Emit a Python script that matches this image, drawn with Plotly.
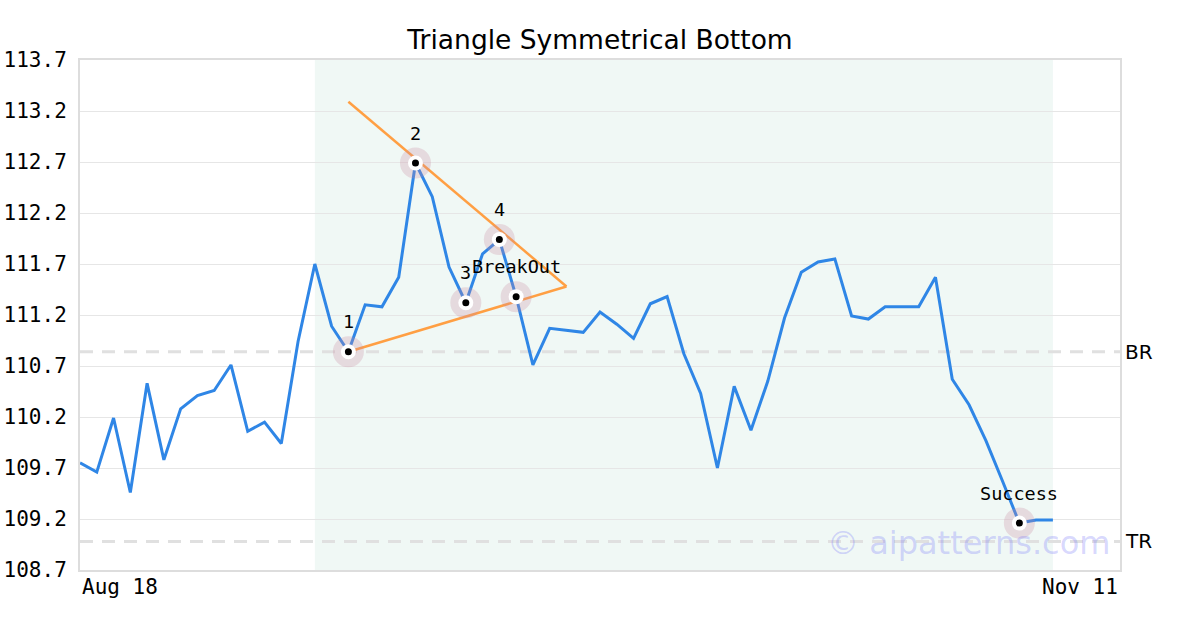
import plotly.graph_objects as go

# ---- data ----
x_idx = list(range(59))
prices = [109.75, 109.66, 110.19, 109.46, 110.53, 109.78, 110.28, 110.41, 110.46, 110.71,
          110.06, 110.15, 109.94, 110.94, 111.70, 111.09, 110.84, 111.30, 111.28, 111.57,
          112.69, 112.36, 111.67, 111.32, 111.80, 111.94, 111.38, 110.71, 111.07, 111.05,
          111.03, 111.23, 111.11, 110.97, 111.31, 111.38, 110.82, 110.43, 109.70, 110.50,
          110.07, 110.55, 111.17, 111.62, 111.72, 111.75, 111.19, 111.16, 111.28, 111.28,
          111.28, 111.57, 110.57, 110.32, 109.97, 109.57, 109.16, 109.19, 109.19]
pattern_idx = [16, 20, 23, 25, 26, 56]
pattern_labels = ["1", "2", "3", "4", "BreakOut", "Success"]
upper_x = [16, 29]
upper_y = [113.29, 111.48]
lower_x = [16, 29]
lower_y = [110.84, 111.48]
shade_range = [14, 58]
br_level = 110.84
tr_level = 108.98
x_range = [0, 62]
x_tick_labels = ["Aug 18", "Nov 11"]
y_ticks = [108.7, 109.2, 109.7, 110.2, 110.7, 111.2, 111.7, 112.2, 112.7, 113.2, 113.7]

MONO = "DejaVu Sans Mono"
SANS = "DejaVu Sans"

fig = go.Figure()

fig.add_trace(go.Scatter(x=x_idx, y=prices, mode="lines",
                         line=dict(color="#2f86e6", width=3), hoverinfo="skip"))
fig.add_trace(go.Scatter(x=upper_x, y=upper_y, mode="lines",
                         line=dict(color="#ff9f43", width=2.5), hoverinfo="skip"))
fig.add_trace(go.Scatter(x=lower_x, y=lower_y, mode="lines",
                         line=dict(color="#ff9f43", width=2.5), hoverinfo="skip"))

px = [x_idx[i] for i in pattern_idx]
py = [prices[i] for i in pattern_idx]
fig.add_trace(go.Scatter(x=px, y=py, mode="markers",
                         marker=dict(size=31, color="rgba(200,140,160,0.28)"), hoverinfo="skip"))
fig.add_trace(go.Scatter(x=px, y=py, mode="markers",
                         marker=dict(size=15, color="white"), hoverinfo="skip"))
fig.add_trace(go.Scatter(x=px, y=py, mode="markers",
                         marker=dict(size=7, color="black"), hoverinfo="skip"))

for xv, yv, t in zip(px, py, pattern_labels):
    fig.add_annotation(x=xv, y=yv, text=t, showarrow=False, yshift=30,
                       xanchor="center", yanchor="middle",
                       font=dict(family=MONO, size=18.5, color="black"))

# shaded pattern region
fig.add_shape(type="rect", xref="x", yref="paper", x0=shade_range[0], x1=shade_range[1],
              y0=0, y1=1, fillcolor="#f0f8f5", line=dict(width=0), layer="below")

# BR / TR dashed levels
for lvl, name in [(br_level, "BR"), (tr_level, "TR")]:
    fig.add_shape(type="line", xref="paper", yref="y", x0=0, x1=1, y0=lvl, y1=lvl,
                  line=dict(color="#e0e0e0", width=3, dash="13px,9px"), layer="between")
    fig.add_annotation(xref="paper", yref="y", x=1, y=lvl, text=name, showarrow=False,
                       xanchor="left", yanchor="middle", xshift=3,
                       font=dict(family=SANS, size=20, color="black"))

# x tick labels at the axis ends
fig.add_annotation(xref="x", yref="paper", x=x_range[0], y=0, text=x_tick_labels[0],
                   showarrow=False, xanchor="left", yanchor="top", yshift=-3,
                   font=dict(family=MONO, size=21, color="black"))
fig.add_annotation(xref="x", yref="paper", x=x_range[1], y=0, text=x_tick_labels[1],
                   showarrow=False, xanchor="right", yanchor="top", yshift=-3,
                   font=dict(family=MONO, size=21, color="black"))

# watermark
fig.add_annotation(xref="paper", yref="paper", x=1, y=0.053, text="© aipatterns.com",
                   showarrow=False, xanchor="right", yanchor="middle", xshift=-8,
                   font=dict(family=SANS, size=32, color="rgba(120,120,250,0.3)"))

fig.update_layout(
    width=1200, height=630,
    margin=dict(l=80, r=80, t=60, b=60, autoexpand=False),
    paper_bgcolor="white", plot_bgcolor="white",
    showlegend=False,
    title=dict(text="Triangle Symmetrical Bottom", x=0.5, xanchor="center",
               yref="container", y=1 - 40 / 630, yanchor="middle",
               font=dict(family=SANS, size=26.5, color="black")),
    xaxis=dict(range=x_range, showgrid=False, zeroline=False, showticklabels=False,
               showline=True, mirror=True, linecolor="#dddddd", linewidth=2,
               automargin=False),
    yaxis=dict(range=[y_ticks[0], y_ticks[-1]], tickvals=y_ticks,
               ticktext=[f"{v:.1f}" for v in y_ticks],
               showgrid=True, gridcolor="#e6e6e6", gridwidth=1, zeroline=False,
               showline=True, mirror=True, linecolor="#dddddd", linewidth=2,
               ticks="outside", ticklen=7, tickcolor="rgba(0,0,0,0)", automargin=False,
               tickfont=dict(family=MONO, size=21, color="black")),
)

# remove the page's default 8px body margin so the figure sits at the window origin
fig.write_html("out.html", config={"displayModeBar": False},
               post_script="document.body.style.margin='0px';")
